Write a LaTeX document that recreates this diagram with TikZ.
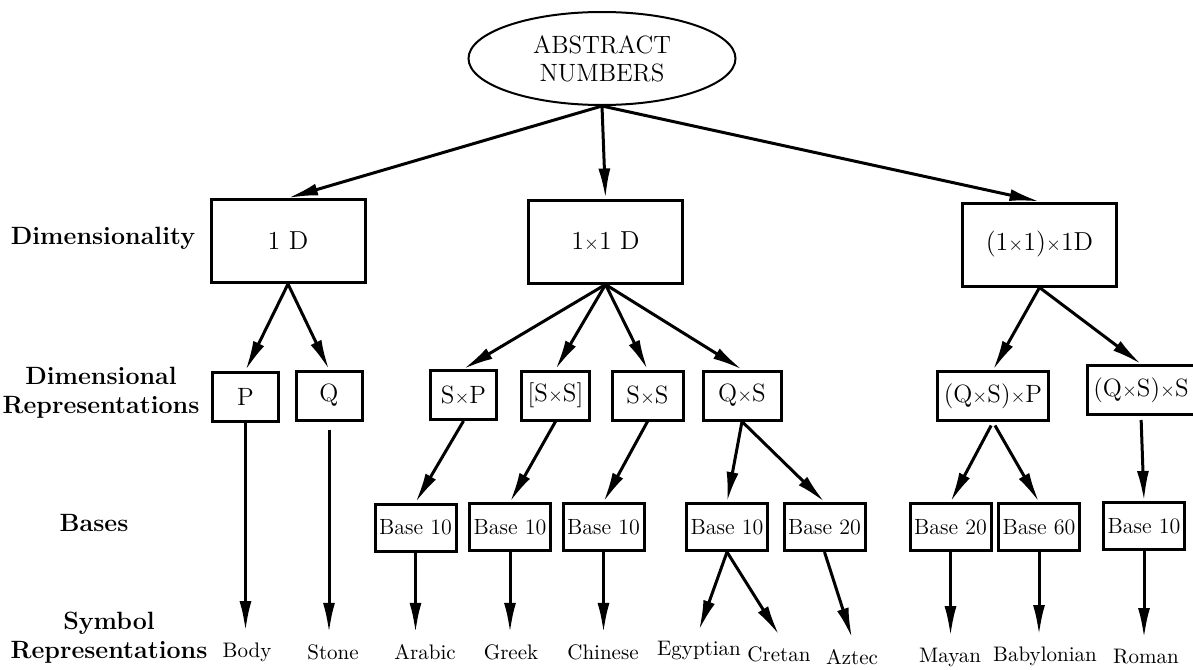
\documentclass[tikz,border=0pt]{standalone}
\usepackage{amsmath}
\usetikzlibrary{shapes.geometric,arrows.meta}

\newcommand{\tm}{\scalebox{0.8}{$\times$}}

\begin{document}
\begin{tikzpicture}[x=0.5pt, y=-0.5pt, line width=1.5pt,
    >={Latex[length=15pt,width=6pt]},
    topnode/.style={draw, ellipse, line width=1pt, minimum width=133.5pt, minimum height=46.5pt, inner sep=0pt, align=center, font=\fontsize{12.5}{14}\selectfont},
    dimbox/.style={draw, rectangle, minimum width=77pt, minimum height=41.5pt, font=\fontsize{13}{15}\selectfont},
    repbox/.style={draw, rectangle, minimum width=33pt, minimum height=24.5pt, inner xsep=3pt, font=\fontsize{12.5}{14}\selectfont},
    basebox/.style={draw, rectangle, minimum width=40.5pt, minimum height=23.5pt, inner xsep=2pt, font=\fontsize{11}{12}\selectfont},
    symlabel/.style={inner sep=5pt, font=\fontsize{10.5}{12}\selectfont},
    rowlabel/.style={align=center, font=\bfseries\fontsize{12.5}{14.5}\selectfont}]
    \useasboundingbox (0,0) rectangle (1193,669);

    \node (abs) [topnode] at (602,58.5) {ABSTRACT\\NUMBERS};

    \node (dimOne) [dimbox] at (288,241) {1 D};
    \node (dimTwo) [dimbox] at (605.5,241.5) {1\tm1 D};
    \node (dimThree) [dimbox] at (1039.5,244.5) {(1\tm1)\tm1D};

    \node (repP) [repbox] at (245.5,396.5) {P};
    \node (repQ) [repbox] at (329,395.5) {Q};
    \node (repSP) [repbox] at (463.5,395) {S\tm P};
    \node (repSSb) [repbox] at (555.5,395.5) {[S\tm S]};
    \node (repSS) [repbox, minimum width=35.5pt] at (647.5,395.5) {S\tm S};
    \node (repQS) [repbox, minimum width=39pt] at (742,395.5) {Q\tm S};
    \node (repQSP) [repbox] at (993,396) {(Q\tm S)\tm P};
    \node (repQSS) [repbox] at (1141,390) {(Q\tm S)\tm S};

    \node (baseAr) [basebox] at (415.5,527.5) {Base 10};
    \node (baseGr) [basebox] at (510,527) {Base 10};
    \node (baseCh) [basebox] at (603.5,527) {Base 10};
    \node (baseEg) [basebox] at (727,527) {Base 10};
    \node (baseAz) [basebox] at (824.5,527) {Base 20};
    \node (baseMa) [basebox] at (950.5,527) {Base 20};
    \node (baseBa) [basebox] at (1039,527) {Base 60};
    \node (baseRo) [basebox] at (1144,526) {Base 10};

    \node (symBody) [symlabel] at (247,652) {Body};
    \node (symStone) [symlabel] at (333,652) {Stone};
    \node (symArabic) [symlabel] at (425,652) {Arabic};
    \node (symGreek) [symlabel] at (511,652) {Greek};
    \node (symChinese) [symlabel] at (603,652) {Chinese};
    \node (symEgyptian) [symlabel] at (699,651) {Egyptian};
    \node (symCretan) [symlabel] at (779,654) {Cretan};
    \node (symAztec) [symlabel] at (852,657) {Aztec};
    \node (symMayan) [symlabel] at (950,657) {Mayan};
    \node (symBabylonian) [symlabel] at (1045,656) {Babylonian};
    \node (symRoman) [symlabel] at (1146,657) {Roman};

    \node (lblDim) [rowlabel] at (103,238) {Dimensionality};
    \node (lblRep) [rowlabel] at (101,393) {Dimensional\\Representations};
    \node (lblBase) [rowlabel] at (94,523) {Bases};
    \node (lblSym) [rowlabel] at (109,638) {Symbol\\Representations};

    \draw[->] (abs.south) -- (dimOne.north);
    \draw[->] (abs.south) -- (dimTwo.north);
    \draw[->] (abs.south) -- (dimThree.north);

    \draw[->] (dimOne.south) -- (repP.north);
    \draw[->] (dimOne.south) -- (repQ.north);
    \draw[->] (dimTwo.south) -- (repSP.north);
    \draw[->] (dimTwo.south) -- (repSSb.north);
    \draw[->] (dimTwo.south) -- (repSS.north);
    \draw[->] (dimTwo.south) -- (repQS.north);
    \draw[->] (dimThree.south) -- (repQSP.north);
    \draw[->] (dimThree.south) -- (repQSS.north);

    \draw[->] (repP.south) -- (repP.south |- symBody.north);
    \draw[->, shorten <=4pt] (repQ.south) -- (repQ.south |- symStone.north);
    \draw[->] (repSP.south) -- (baseAr.north);
    \draw[->] (repSSb.south) -- (baseGr.north);
    \draw[->] (repSS.south) -- (baseCh.north);
    \draw[->] (repQS.south) -- (baseEg.north);
    \draw[->] (repQS.south) -- (baseAz.north);
    \draw[->, shorten <=2pt] (repQSP.south) -- (baseMa.north);
    \draw[->, shorten <=2pt] (repQSP.south) -- (baseBa.north);
    \draw[->, shorten <=2pt] (repQSS.south) -- (baseRo.north);

    \draw[->] (baseAr.south) -- (baseAr.south |- symArabic.north);
    \draw[->] (baseGr.south) -- (baseGr.south |- symGreek.north);
    \draw[->] (baseCh.south) -- (baseCh.south |- symChinese.north);
    \draw[->] (baseEg.south) -- (symEgyptian.north);
    \draw[->] (baseEg.south) -- (symCretan.north);
    \draw[->] (baseAz.south) -- (symAztec.north);
    \draw[->] (baseMa.south) -- (baseMa.south |- symMayan.north);
    \draw[->] (baseBa.south) -- (baseBa.south |- symBabylonian.north);
    \draw[->] (baseRo.south) -- (baseRo.south |- symRoman.north);
\end{tikzpicture}
\end{document}
